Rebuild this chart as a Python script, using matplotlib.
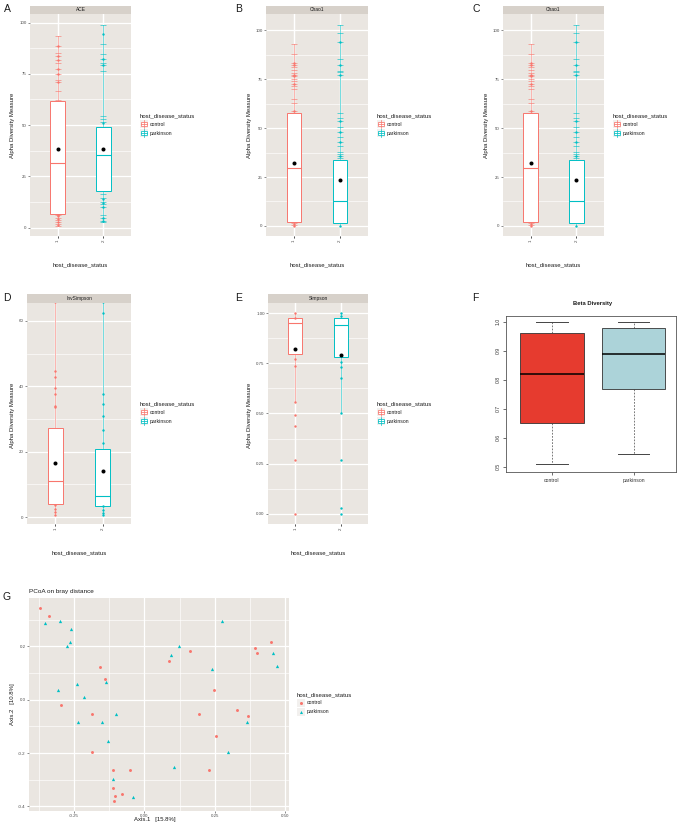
import matplotlib
matplotlib.use('Agg')
import matplotlib.pyplot as plt
from matplotlib.patches import Rectangle
import numpy as np

plt.rcParams['font.family'] = ['Liberation Sans', 'DejaVu Sans']

# ---------------- data ----------------
groups = ['control', 'parkinson']

# ACE
ace_q1 = [6.8, 18.1]
ace_med = [31.5, 35.6]
ace_q3 = [61.6, 49.2]
ace_whislo = [1.0, 3.0]
ace_whishi = [93.5, 98.9]
ace_mean = [38.3, 38.3]
ace_dash_control = [93.5, 88.5, 85.1, 83.5, 81.6, 80.3, 77.5, 74.8, 72.2, 70.9, 66.7, 62.1,
                    6.0, 5.0, 4.0, 3.0, 2.0, 1.0]
ace_dash_parkinson = [98.9, 89.3, 84.8, 82.4, 80.4, 79.5, 76.5, 54.4, 53.0, 51.5,
                      16.5, 14.5, 12.5, 11.5, 10.0, 6.0, 5.0, 3.5, 3.0]
ace_dot_control = [88.5, 83.5, 81.6, 77.5, 74.8, 70.9, 6.0, 5.5, 4.5, 3.0, 1.5]
ace_dot_parkinson = [94.2, 82.4, 79.5, 51.0, 14.0, 12.0, 10.0, 5.0, 3.5]

# Chao1
chao_q1 = [2.2, 1.4]
chao_med = [29.7, 12.6]
chao_q3 = [57.5, 33.5]
chao_whislo = [0.0, 0.0]
chao_whishi = [93.2, 102.9]
chao_mean = [32.3, 23.5]
chao_dash_control = [93.2, 88.1, 83.5, 82.5, 81.3, 79.9, 78.2, 77.4, 76.7, 75.3, 74.0, 72.8,
                     71.6, 69.9, 64.8, 63.1, 58.9, 1.5, 0.5]
chao_dash_parkinson = [102.9, 98.8, 94.2, 85.4, 82.5, 79.2, 78.5, 77.0, 57.5, 55.4, 53.4, 50.7,
                       48.1, 45.6, 43.0, 41.0, 37.9, 36.7, 35.7, 34.5]
chao_dot_control = [83.5, 82.5, 77.4, 76.7, 72.8, 58.9, 1.0, 0.0]
chao_dot_parkinson = [94.2, 82.5, 77.0, 53.4, 48.1, 43.0, 35.7, 0.0]

# InvSimpson
invs_q1 = [4.0, 3.4]
invs_med = [11.0, 6.6]
invs_q3 = [27.2, 20.7]
invs_whislo = [0.7, 0.6]
invs_whishi = [66.0, 66.0]
invs_mean = [16.7, 14.0]
invs_dot_control = [65.8, 44.8, 42.8, 39.4, 37.6, 34.0, 33.6, 3.6, 2.4, 1.5, 0.7]
invs_dot_parkinson = [65.8, 62.4, 37.6, 34.7, 30.9, 26.7, 22.6, 3.3, 2.2, 1.3, 0.6]

# Simpson
simp_q1 = [0.795, 0.780]
simp_med = [0.950, 0.940]
simp_q3 = [0.974, 0.977]
simp_whislo = [0.557, 0.504]
simp_whishi = [1.0, 1.0]
simp_mean = [0.823, 0.790]
simp_dot_control = [1.0, 0.977, 0.771, 0.736, 0.557, 0.494, 0.439, 0.27, 0.0]
simp_dot_parkinson = [1.0, 0.985, 0.756, 0.731, 0.679, 0.504, 0.27, 0.028, 0.0]

# Beta diversity
beta_q1 = [0.652, 0.769]
beta_med = [0.819, 0.889]
beta_q3 = [0.962, 0.977]
beta_whislo = [0.508, 0.543]
beta_whishi = [1.0, 1.0]

# PCoA
pcoa_control_x = [-0.370, -0.337, -0.157, -0.138, -0.294, -0.186, -0.186, -0.110, -0.051, -0.111,
                  -0.105, -0.080, -0.108, 0.086, 0.163, 0.195, 0.247, 0.255, 0.230, 0.330,
                  0.369, 0.391, 0.400, 0.448]
pcoa_control_y = [0.345, 0.315, 0.124, 0.079, -0.018, -0.054, -0.195, -0.264, -0.264, -0.330,
                  -0.361, -0.355, -0.379, 0.145, 0.184, -0.054, 0.036, -0.135, -0.264, -0.039,
                  -0.061, 0.194, 0.176, 0.216]
pcoa_parkinson_x = [-0.353, -0.300, -0.261, -0.265, -0.274, -0.306, -0.240, -0.213, -0.236, -0.135,
                    -0.149, -0.099, -0.128, -0.112, -0.039, 0.095, 0.124, 0.105, 0.241, 0.275,
                    0.296, 0.363, 0.457, 0.472]
pcoa_parkinson_y = [0.289, 0.293, 0.266, 0.216, 0.201, 0.036, 0.059, 0.011, -0.083, 0.068,
                    -0.084, -0.054, -0.155, -0.296, -0.364, 0.168, 0.201, -0.254, 0.114, 0.296,
                    -0.195, -0.085, 0.176, 0.126]

# ---------------- style ----------------
W, H = 685, 826
CTRL = '#F8766D'
PARK = '#00BFC4'
colors = [CTRL, PARK]
PANEL_BG = '#EAE6E1'
STRIP_BG = '#D7D1CA'
KEY_BG = '#F2F0EE'
TICK_FS = 3.2

fig = plt.figure(figsize=(W / 100, H / 100), dpi=100)


def rect(x0, y0, x1, y1):
    return [x0 / W, 1 - y1 / H, (x1 - x0) / W, (y1 - y0) / H]


ov = fig.add_axes([0, 0, 1, 1], zorder=10)
ov.set_xlim(0, W)
ov.set_ylim(H, 0)
ov.axis('off')
ov.patch.set_alpha(0)


def gg_box(px, strip_title, q1, med, q3, wlo, whi, mean, dashes, dots,
           ylim, yticks, yticklabels, yminor):
    x0, y0, x1, y1 = px
    ax = fig.add_axes(rect(x0, y0, x1, y1))
    ax.set_facecolor(PANEL_BG)
    for s in ax.spines.values():
        s.set_visible(False)
    ax.set_xlim(0.4, 2.6)
    ax.set_ylim(*ylim)
    ax.set_yticks(yticks)
    ax.set_yticklabels(yticklabels)
    ax.set_yticks(yminor, minor=True)
    ax.set_xticks([1, 2])
    ax.set_xticklabels(groups, rotation=90)
    ax.grid(which='major', color='white', lw=0.9)
    ax.grid(which='minor', axis='y', color='white', lw=0.45)
    ax.set_axisbelow(True)
    ax.tick_params(which='major', length=1.6, width=0.4, color='#333333',
                   labelsize=TICK_FS, labelcolor='#4D4D4D', pad=0.8)
    ax.tick_params(which='minor', length=0)
    stats = [dict(q1=q1[i], med=med[i], q3=q3[i], whislo=wlo[i], whishi=whi[i],
                  mean=mean[i], fliers=[]) for i in range(2)]
    b = ax.bxp(stats, positions=[1, 2], widths=0.31, patch_artist=True,
               showcaps=False, showfliers=False, showmeans=True,
               meanprops=dict(marker='o', markerfacecolor='black',
                              markeredgecolor='black', markersize=2.9,
                              markeredgewidth=0))
    for i, c in enumerate(colors):
        b['boxes'][i].set(facecolor='white', edgecolor=c, linewidth=0.7, zorder=2)
        b['medians'][i].set(color=c, linewidth=0.8, zorder=3)
        for w in b['whiskers'][2 * i:2 * i + 2]:
            w.set(color=c, alpha=0.55, linewidth=0.7, zorder=1.5)
        b['means'][i].set(zorder=5)
        if dashes is not None:
            ax.scatter(np.full(len(dashes[i]), i + 1), dashes[i], marker='_', s=13,
                       color=c, alpha=0.6, linewidths=0.7, zorder=3)
        ax.scatter(np.full(len(dots[i]), i + 1), dots[i], marker='o', s=3,
                   color=c, linewidths=0, zorder=4)
    # strip
    sax = fig.add_axes(rect(x0, y0 - 8.8, x1, y0))
    sax.set_facecolor(STRIP_BG)
    sax.set_xticks([])
    sax.set_yticks([])
    for s in sax.spines.values():
        s.set_visible(False)
    sax.text(0.5, 0.5, strip_title, ha='center', va='center', fontsize=3.5,
             color='#1A1A1A', transform=sax.transAxes)
    return ax


def box_legend(x, y):
    ov.text(x, y, 'host_disease_status', fontsize=4.3, va='center', ha='left',
            color='#1A1A1A')
    for k, (g, c) in enumerate(zip(groups, colors)):
        yy = y + 8 + 9 * k
        ov.add_patch(Rectangle((x, yy - 4), 8, 8, facecolor=KEY_BG, edgecolor='none'))
        ov.plot([x + 4, x + 4], [yy - 3.6, yy + 3.6], color=c, lw=0.5)
        ov.add_patch(Rectangle((x + 1, yy - 2.2), 6, 4.4, facecolor='white',
                               edgecolor=c, lw=0.55))
        ov.plot([x + 1, x + 7], [yy, yy], color=c, lw=0.55)
        ov.text(x + 10, yy, g, fontsize=3.7, va='center', ha='left', color='#1A1A1A')


yt100 = [0, 25, 50, 75, 100]
yl100 = ['0', '25', '50', '75', '100']
ym100 = [12.5, 37.5, 62.5, 87.5]

# Panel A
gg_box((30, 14.3, 131, 236), 'ACE', ace_q1, ace_med, ace_q3, ace_whislo, ace_whishi,
       ace_mean, [ace_dash_control, ace_dash_parkinson],
       [ace_dot_control, ace_dot_parkinson], (-4, 104), yt100, yl100, ym100)
# Panel B
gg_box((266, 14.3, 368, 236), 'Chao1', chao_q1, chao_med, chao_q3, chao_whislo,
       chao_whishi, chao_mean, [chao_dash_control, chao_dash_parkinson],
       [chao_dot_control, chao_dot_parkinson], (-5.15, 108.2), yt100, yl100, ym100)
# Panel C
gg_box((503, 14.3, 604, 236), 'Chao1', chao_q1, chao_med, chao_q3, chao_whislo,
       chao_whishi, chao_mean, [chao_dash_control, chao_dash_parkinson],
       [chao_dot_control, chao_dot_parkinson], (-5.15, 108.2), yt100, yl100, ym100)
# Panel D
gg_box((27, 303, 131, 524), 'InvSimpson', invs_q1, invs_med, invs_q3, invs_whislo,
       invs_whishi, invs_mean, None, [invs_dot_control, invs_dot_parkinson],
       (-2.1, 65.5), [0, 20, 40, 60], ['0', '20', '40', '60'], [10, 30, 50])
# Panel E
gg_box((268, 303, 368, 524), 'Simpson', simp_q1, simp_med, simp_q3, simp_whislo,
       simp_whishi, simp_mean, None, [simp_dot_control, simp_dot_parkinson],
       (-0.05, 1.05), [0, 0.25, 0.5, 0.75, 1.0], ['0.00', '0.25', '0.50', '0.75', '1.00'],
       [0.125, 0.375, 0.625, 0.875])

# axis titles and legends for ggplot panels
for (xc, yc) in [(13, 125), (250, 125), (487, 125), (13, 415), (250, 415)]:
    ov.text(xc, yc, 'Alpha Diversity Measure', rotation=90, ha='center', va='center',
            fontsize=4.3, color='#1A1A1A')
for (xc, yc) in [(80.5, 265), (317, 265), (553.5, 265), (79, 553), (318, 553)]:
    ov.text(xc, yc, 'host_disease_status', ha='center', va='center', fontsize=4.3,
            color='#1A1A1A')
for (lx, ly) in [(140, 116), (377, 116), (613, 116), (140, 404), (377, 404)]:
    box_legend(lx, ly)

# Panel F (base R style)
axf = fig.add_axes(rect(506, 316, 676, 472))
fstats = [dict(q1=beta_q1[i], med=beta_med[i], q3=beta_q3[i], whislo=beta_whislo[i],
               whishi=beta_whishi[i], fliers=[]) for i in range(2)]
bf = axf.bxp(fstats, positions=[1, 2], widths=0.78, capwidths=0.39, patch_artist=True,
             showfliers=False,
             boxprops=dict(linewidth=0.6, edgecolor='#333333'),
             medianprops=dict(color='black', linewidth=1.1),
             whiskerprops=dict(linestyle=(0, (2.5, 2)), linewidth=0.5, color='#444444'),
             capprops=dict(linewidth=0.7, color='#444444'))
for patch, fc in zip(bf['boxes'], ['#E63B2F', '#ACD3D9']):
    patch.set_facecolor(fc)
axf.set_xlim(0.44, 2.52)
axf.set_ylim(0.482, 1.02)
axf.set_yticks([0.5, 0.6, 0.7, 0.8, 0.9, 1.0])
axf.set_yticklabels(['0.5', '0.6', '0.7', '0.8', '0.9', '1.0'], rotation=90, va='center')
axf.set_xticks([1, 2])
axf.set_xticklabels(groups)
axf.tick_params(labelsize=3.7, length=2.5, width=0.5, pad=1.5, color='#333333',
                labelcolor='#333333')
for s in axf.spines.values():
    s.set_linewidth(0.6)
    s.set_color('#555555')
ov.text(593, 304, 'Beta Diversity', fontweight='bold', fontsize=4.2, ha='center',
        va='center', color='#1A1A1A')

# Panel G
axg = fig.add_axes(rect(29, 598, 289, 811))
axg.set_facecolor(PANEL_BG)
for s in axg.spines.values():
    s.set_visible(False)
axg.set_xlim(-0.409, 0.513)
axg.set_ylim(-0.417, 0.381)
axg.set_xticks([-0.25, 0, 0.25, 0.5])
axg.set_xticklabels(['-0.25', '0.00', '0.25', '0.50'])
axg.set_xticks([-0.375, -0.125, 0.125, 0.375], minor=True)
axg.set_yticks([-0.4, -0.2, 0, 0.2])
axg.set_yticklabels(['-0.4', '-0.2', '0.0', '0.2'])
axg.set_yticks([-0.3, -0.1, 0.1, 0.3], minor=True)
axg.grid(which='major', color='white', lw=0.9)
axg.grid(which='minor', color='white', lw=0.45)
axg.set_axisbelow(True)
axg.tick_params(which='major', length=1.6, width=0.4, color='#333333', labelsize=TICK_FS,
                labelcolor='#4D4D4D', pad=0.8)
axg.tick_params(which='minor', length=0)
axg.scatter(pcoa_control_x, pcoa_control_y, marker='o', s=4.5, color=CTRL, linewidths=0)
axg.scatter(pcoa_parkinson_x, pcoa_parkinson_y, marker='^', s=5.5, color=PARK, linewidths=0)
ov.text(29, 592, 'PCoA on bray distance', ha='left', va='center', fontsize=4.6,
        color='#1A1A1A')
ov.text(155, 820, 'Axis.1   [15.8%]', ha='center', va='center', fontsize=4.3,
        color='#1A1A1A')
ov.text(13, 704, 'Axis.2   [10.8%]', ha='center', va='center', rotation=90, fontsize=4.3,
        color='#1A1A1A')
# G legend
gx, gy = 297, 695
ov.text(gx, gy, 'host_disease_status', fontsize=4.3, va='center', ha='left', color='#1A1A1A')
for k, (g, c, m) in enumerate(zip(groups, colors, ['o', '^'])):
    yy = gy + 8 + 8.5 * k
    ov.add_patch(Rectangle((gx, yy - 4), 8, 8, facecolor=KEY_BG, edgecolor='none'))
    ov.plot([gx + 4], [yy], marker=m, markersize=2.2, color=c, markeredgewidth=0)
    ov.text(gx + 10, yy, g, fontsize=3.7, va='center', ha='left', color='#1A1A1A')

# Panel letters
for (lx, ly, t) in [(7, 9, 'A'), (239, 9, 'B'), (476, 9, 'C'), (7, 298, 'D'),
                    (239, 298, 'E'), (475, 298, 'F'), (7, 597, 'G')]:
    ov.text(lx, ly, t, fontsize=7.5, ha='center', va='center', color='#1A1A1A')

fig.savefig('out.png', dpi=100)
